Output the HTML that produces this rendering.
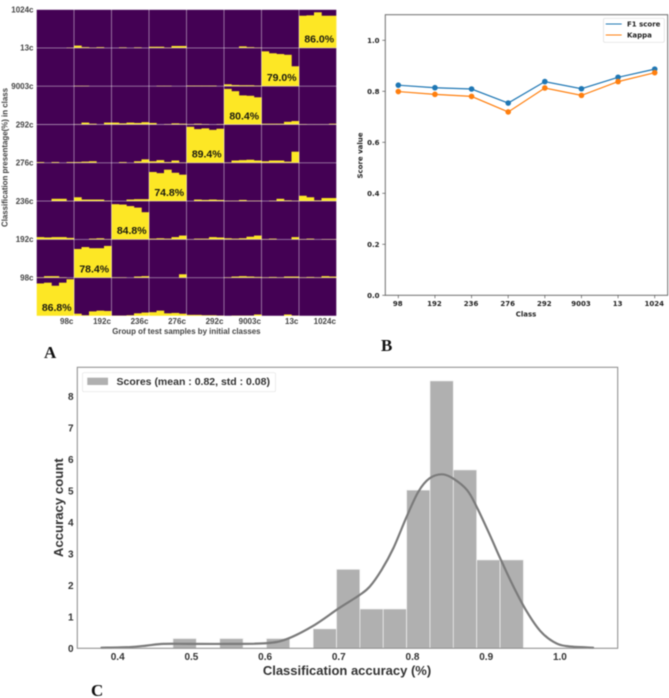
<!DOCTYPE html>
<html lang="en">
<head>
<meta charset="utf-8">
<title>Classification result figure</title>
<style>
html,body{margin:0;padding:0;background:#fff;width:669px;height:698px;overflow:hidden}
svg{display:block;filter:blur(.45px)}
text{font-family:"Liberation Sans",sans-serif}
.djv{font-family:"DejaVu Sans",sans-serif;font-weight:700;font-size:7px;fill:#222}
.a-tick{font-size:8px;fill:#444;font-weight:700}
.a-title{font-size:7.9px;fill:#444;font-weight:700}
.c-tick{font-size:10px;fill:#333;font-weight:700}
.c-title{font-weight:700;fill:#333}
.panel{font-family:"Liberation Serif",serif;font-weight:700;font-size:17px;fill:#111}
</style>
</head>
<body>
<svg id="figure" width="669" height="698" viewBox="0 0 669 698" xmlns="http://www.w3.org/2000/svg">
  <rect width="669" height="698" fill="#fff"/>
  <g id="panelA"></g>
  <g id="panelB"></g>
  <g id="panelC"></g>
  <text class="panel" x="44" y="358">A</text>
  <text class="panel" x="381" y="351">B</text>
  <text class="panel" x="91" y="696">C</text>
</svg>
<script>
// ---------- Panel A data ----------
const columnClasses = ['98c','192c','236c','276c','292c','9003c','13c','1024c'];
const rowClasses = ['1024c','13c','9003c','292c','276c','236c','192c','98c'];
const row1024c = [[0,0,0,0,1],[6,2,1,2,0],[0,1.5,0,1.5,0],[3,3,1,5,5],[0,0,0,0,0],[0,0,4,2,1],[0,0,0,0,0],[84,85,93,84,84]];
const row13c = [[0,0,0,0,0],[1,1,0,0,0],[0,0,0,0,0],[0,1,1,0,0],[1.5,1.5,1.5,1.5,0],[5,3,2.5,2.5,1.5],[91,86,84,82,52],[0,0,0,0,0]];
const row9003c = [[0,0,0,0,0],[0.5,5,2,0,5],[5,3,5,4,6],[4,0,1,3,2],[1,2,1,0,1],[93,87,76,75,71],[2,2,2,7,9],[1,0.5,0.5,0.5,2]];
const row292c = [[2,0,2,0,2],[2,3,4,0,0],[0,2,0,4,9],[4,7,2,6,1],[94,88,90,86,89],[1,6,7,8,6],[4,6,6,3,29],[0,0,0,0,0]];
const row276c = [[0,0,6,6,0.5],[10,4,4,4,1],[0,0,4,5,5],[76,73,82,74,69],[0,4,3,4,3],[1,1,3,1,1],[0,1,6,2,1],[14,10,2,8,8]];
const row236c = [[6,5,6,6,4],[0,0,2,3,1],[92,91,87,83,71],[2,3,2,6,10],[0.5,2,2,6,5],[3,2,3,7,10],[1,2,0,0,6],[1,2,0,1,1]];
const row192c = [[1,4,4,1,0],[75,80,77,77,83],[1,1,0,3,4],[0,0,0,0,9],[0,0,0,0,0],[1,3,4,3,2],[1,2,1,3,3],[1,2,1,4,3]];
const row98c = [[85,87,79,87,96],[6,2,12,14,13],[1,1,2,7,9],[10,14,7,8,6],[3,3,2,2,1],[0,1,1,1,4],[0,0,0,4,1],[0,0,0,0,0]];
const heatRows = [row1024c,row13c,row9003c,row292c,row276c,row236c,row192c,row98c];
const diagonalLabels = ['86.0%','79.0%','80.4%','89.4%','74.8%','84.8%','78.4%','86.8%'];

// ---------- Panel B data ----------
const lineClasses = ['98','192','236','276','292','9003','13','1024'];
const f1Scores = [0.824,0.814,0.809,0.754,0.838,0.81,0.855,0.887];
const kappaScores = [0.799,0.788,0.78,0.719,0.813,0.784,0.838,0.873];
const scoreTicks = [0,0.2,0.4,0.6,0.8,1.0];

// ---------- Panel C data ----------
const histCounts = [0.31,0,0.31,0,0.31,0,0.62,2.51,1.25,1.25,5.03,8.5,5.67,2.81,2.81];
const histStart = 0.475;
const histBinWidth = 0.0317;
const kdeAccuracy = [0.378,0.417,0.439,0.462,0.5,0.552,0.601,0.629,0.665,0.7,0.728,0.742,0.758,0.774,0.792,0.808,0.823,0.84,0.855,0.874,0.887,0.905,0.919,0.937,0.955,0.973,0.991,1.009,1.045];
const kdeDensity = [0.02,0.04,0.085,0.14,0.14,0.14,0.16,0.29,0.71,1.27,1.69,1.96,2.49,3.18,4.18,4.98,5.4,5.53,5.4,5.03,4.5,3.6,2.86,1.96,1.17,0.56,0.21,0.07,0.02];
const accuracyTicks = [0.4,0.5,0.6,0.7,0.8,0.9,1.0];
const countTicks = [0,1,2,3,4,5,6,7,8];

const NS = 'http://www.w3.org/2000/svg';
function make(tag, parent, props, content) {
  const node = document.createElementNS(NS, tag);
  for (const key in props) node.setAttribute(key, props[key]);
  if (content !== undefined) node.textContent = content;
  parent.appendChild(node);
  return node;
}
function smoothPath(pts) {
  let d = 'M' + pts[0][0].toFixed(2) + ' ' + pts[0][1].toFixed(2);
  for (let i = 0; i < pts.length - 1; i++) {
    const p0 = pts[Math.max(i - 1, 0)], p1 = pts[i], p2 = pts[i + 1], p3 = pts[Math.min(i + 2, pts.length - 1)];
    const c1x = p1[0] + (p2[0] - p0[0]) / 6, c1y = p1[1] + (p2[1] - p0[1]) / 6;
    const c2x = p2[0] - (p3[0] - p1[0]) / 6, c2y = p2[1] - (p3[1] - p1[1]) / 6;
    d += 'C' + c1x.toFixed(2) + ' ' + c1y.toFixed(2) + ' ' + c2x.toFixed(2) + ' ' + c2y.toFixed(2) + ' ' + p2[0].toFixed(2) + ' ' + p2[1].toFixed(2);
  }
  return d;
}

// ---------- Panel A ----------
(function () {
  const g = document.getElementById('panelA');
  const left = 36.5, top = 9.6, cellW = 37.5, cellH = 38.3;
  const cols = columnClasses.length, rows = rowClasses.length;
  const cellX = c => left + c * cellW;
  const rowBottom = r => top + (r + 1) * cellH;
  const barH = v => v / 100 * cellH;

  const bg = make('rect', g, {x: left, y: top, width: cols * cellW, height: rows * cellH, fill: '#440154'});
  
  

  heatRows.forEach((row, r) => {
    row.forEach((cell, c) => {
      cell.forEach((v, b) => {
        if (v <= 0) return;
        const w = cellW / cell.length;
        const rect = make('rect', g, {x: cellX(c) + b * w, y: rowBottom(r) - barH(v), width: w + 0.2, height: barH(v), fill: '#fde725'});
        
        
      });
    });
  });

  for (let c = 0; c <= cols; c++) {
    const line = make('line', g, {x1: cellX(c), x2: cellX(c), y1: top, y2: top + rows * cellH, stroke: '#ffffff', 'stroke-opacity': 0.48, 'stroke-width': 0.9});
    
    
  }
  for (let r = -1; r < rows; r++) {
    const line = make('line', g, {x1: left, x2: left + cols * cellW, y1: rowBottom(r), y2: rowBottom(r), stroke: '#ffffff', 'stroke-opacity': 0.48, 'stroke-width': 0.9});
    
    
  }

  rowClasses.forEach((label, r) => {
    const t = make('text', g, {x: 33.5, y: top + r * cellH + (r === 0 ? 3 : 2.8), 'text-anchor': 'end', class: 'a-tick'}, label);
    
    
  });
  columnClasses.forEach((label, c) => {
    const t = make('text', g, {x: cellX(c + 1) - 0.6, y: 324, 'text-anchor': 'end', class: 'a-tick'}, label);
    
    
  });
  diagonalLabels.forEach((label, r) => {
    const c = cols - 1 - r;
    const t = make('text', g, {x: cellX(c + 1) - 2.4, y: rowBottom(r) - 5.2, 'text-anchor': 'end', 'font-size': 10.5, 'font-weight': 700, fill: '#1a1a10'}, label);
    
    
  });

  const xt = make('text', g, {x: 186.4, y: 334, 'text-anchor': 'middle', class: 'a-title'}, 'Group of test samples by initial classes');
  
  
  const yt = make('text', g, {transform: 'translate(7.4 157.5) rotate(-90)', 'text-anchor': 'middle', class: 'a-title'}, 'Classification presentage(%) in class');
  
  
})();

// ---------- Panel B ----------
(function () {
  const g = document.getElementById('panelB');
  const left = 385.3, right = 667.7, top = 14.7, bottom = 295.3;
  const x = i => 398.3 + i * 36.63;
  const y = v => bottom - v * 255;

  const frame = make('rect', g, {x: left, y: top, width: right - left, height: bottom - top, fill: 'none', stroke: '#6e6e6e', 'stroke-width': 1});
  
  

  scoreTicks.forEach(v => {
    const tick = make('line', g, {x1: left - 3, x2: left, y1: y(v), y2: y(v), stroke: '#555', 'stroke-width': 0.7});
    
    
    const t = make('text', g, {x: 379.5, y: y(v) + 2.6, 'text-anchor': 'end', class: 'djv'}, v.toFixed(1));
    
    
  });
  lineClasses.forEach((label, i) => {
    const tick = make('line', g, {x1: x(i), x2: x(i), y1: bottom, y2: bottom + 3, stroke: '#555', 'stroke-width': 0.7});
    
    
    const t = make('text', g, {x: x(i) - 0.5, y: 306, 'text-anchor': 'middle', class: 'djv'}, label);
    
    
  });

  const f1Line = make('polyline', g, {points: f1Scores.map((v, i) => x(i) + ',' + y(v)).join(' '), fill: 'none', stroke: '#1f77b4', 'stroke-width': 1.2});
  
  
  const kappaLine = make('polyline', g, {points: kappaScores.map((v, i) => x(i) + ',' + y(v)).join(' '), fill: 'none', stroke: '#ff7f0e', 'stroke-width': 1.2});
  
  
  f1Scores.forEach((v, i) => {
    const dot = make('circle', g, {cx: x(i), cy: y(v), r: 2.8, fill: '#1f77b4'});
    
    
  });
  kappaScores.forEach((v, i) => {
    const dot = make('circle', g, {cx: x(i), cy: y(v), r: 2.8, fill: '#ff7f0e'});
    
    
  });

  const legend = make('rect', g, {x: 603.5, y: 18.3, width: 60.8, height: 24, rx: 1.5, fill: '#fff', stroke: '#ddd', 'stroke-width': 0.7});
  
  
  const l1 = make('line', g, {x1: 605.7, x2: 621.7, y1: 24, y2: 24, stroke: '#1f77b4', 'stroke-width': 1.1});
  
  
  const l2 = make('line', g, {x1: 605.7, x2: 621.7, y1: 35, y2: 35, stroke: '#ff7f0e', 'stroke-width': 1.1});
  
  
  const t1 = make('text', g, {x: 627, y: 26.6, class: 'djv'}, 'F1 score');
  
  
  const t2 = make('text', g, {x: 627, y: 37.6, class: 'djv'}, 'Kappa');
  
  

  const xt = make('text', g, {x: 526, y: 316.3, 'text-anchor': 'middle', class: 'djv'}, 'Class');
  
  
  const yt = make('text', g, {transform: 'translate(362.3 155.5) rotate(-90)', 'text-anchor': 'middle', class: 'djv'}, 'Score value');
  
  
})();

// ---------- Panel C ----------
(function () {
  const g = document.getElementById('panelC');
  const left = 77.3, right = 617.7, top = 367.3, bottom = 648.3;
  const x = v => 117.7 + (v - 0.4) * 737;
  const y = v => bottom - v * 31.46;

  histCounts.forEach((count, i) => {
    if (count <= 0) return;
    const x0 = x(histStart + i * histBinWidth), x1 = x(histStart + (i + 1) * histBinWidth);
    const bar = make('rect', g, {x: x0, y: y(count), width: x1 - x0, height: bottom - y(count), fill: '#b0b0b0', stroke: '#f2f2f2', 'stroke-width': 0.7});
    
    
  });

  const kde = make('path', g, {d: smoothPath(kdeAccuracy.map((v, i) => [x(v), y(kdeDensity[i])])), fill: 'none', stroke: '#7b7b7b', 'stroke-width': 2.2, 'stroke-linecap': 'round'});
  
  

  const frame = make('rect', g, {x: left, y: top, width: right - left, height: bottom - top, fill: 'none', stroke: '#8a8a8a', 'stroke-width': 1});
  
  

  accuracyTicks.forEach(v => {
    const t = make('text', g, {x: x(v), y: 660, 'text-anchor': 'middle', class: 'c-tick'}, v.toFixed(1));
    
    
  });
  countTicks.forEach(v => {
    const t = make('text', g, {x: 73.5, y: y(v) + 3.5, 'text-anchor': 'end', class: 'c-tick'}, String(v));
    
    
  });

  const legend = make('rect', g, {x: 82.5, y: 372.7, width: 193, height: 19, rx: 1.5, fill: '#fff', stroke: '#e4e4e4', 'stroke-width': 0.7});
  
  
  const swatch = make('rect', g, {x: 87.3, y: 377.7, width: 20.7, height: 7.3, fill: '#b0b0b0'});
  
  
  const lt = make('text', g, {x: 116.5, y: 384.8, 'font-size': 10.5, 'font-weight': 700, fill: '#333'}, 'Scores (mean : 0.82, std : 0.08)');
  
  

  const xt = make('text', g, {x: 347, y: 675, 'text-anchor': 'middle', class: 'c-title', 'font-size': 13}, 'Classification accuracy (%)');
  
  
  const yt = make('text', g, {transform: 'translate(63 507.7) rotate(-90)', 'text-anchor': 'middle', class: 'c-title', 'font-size': 13.2}, 'Accuracy count');
  
  
})();
</script>
</body>
</html>
